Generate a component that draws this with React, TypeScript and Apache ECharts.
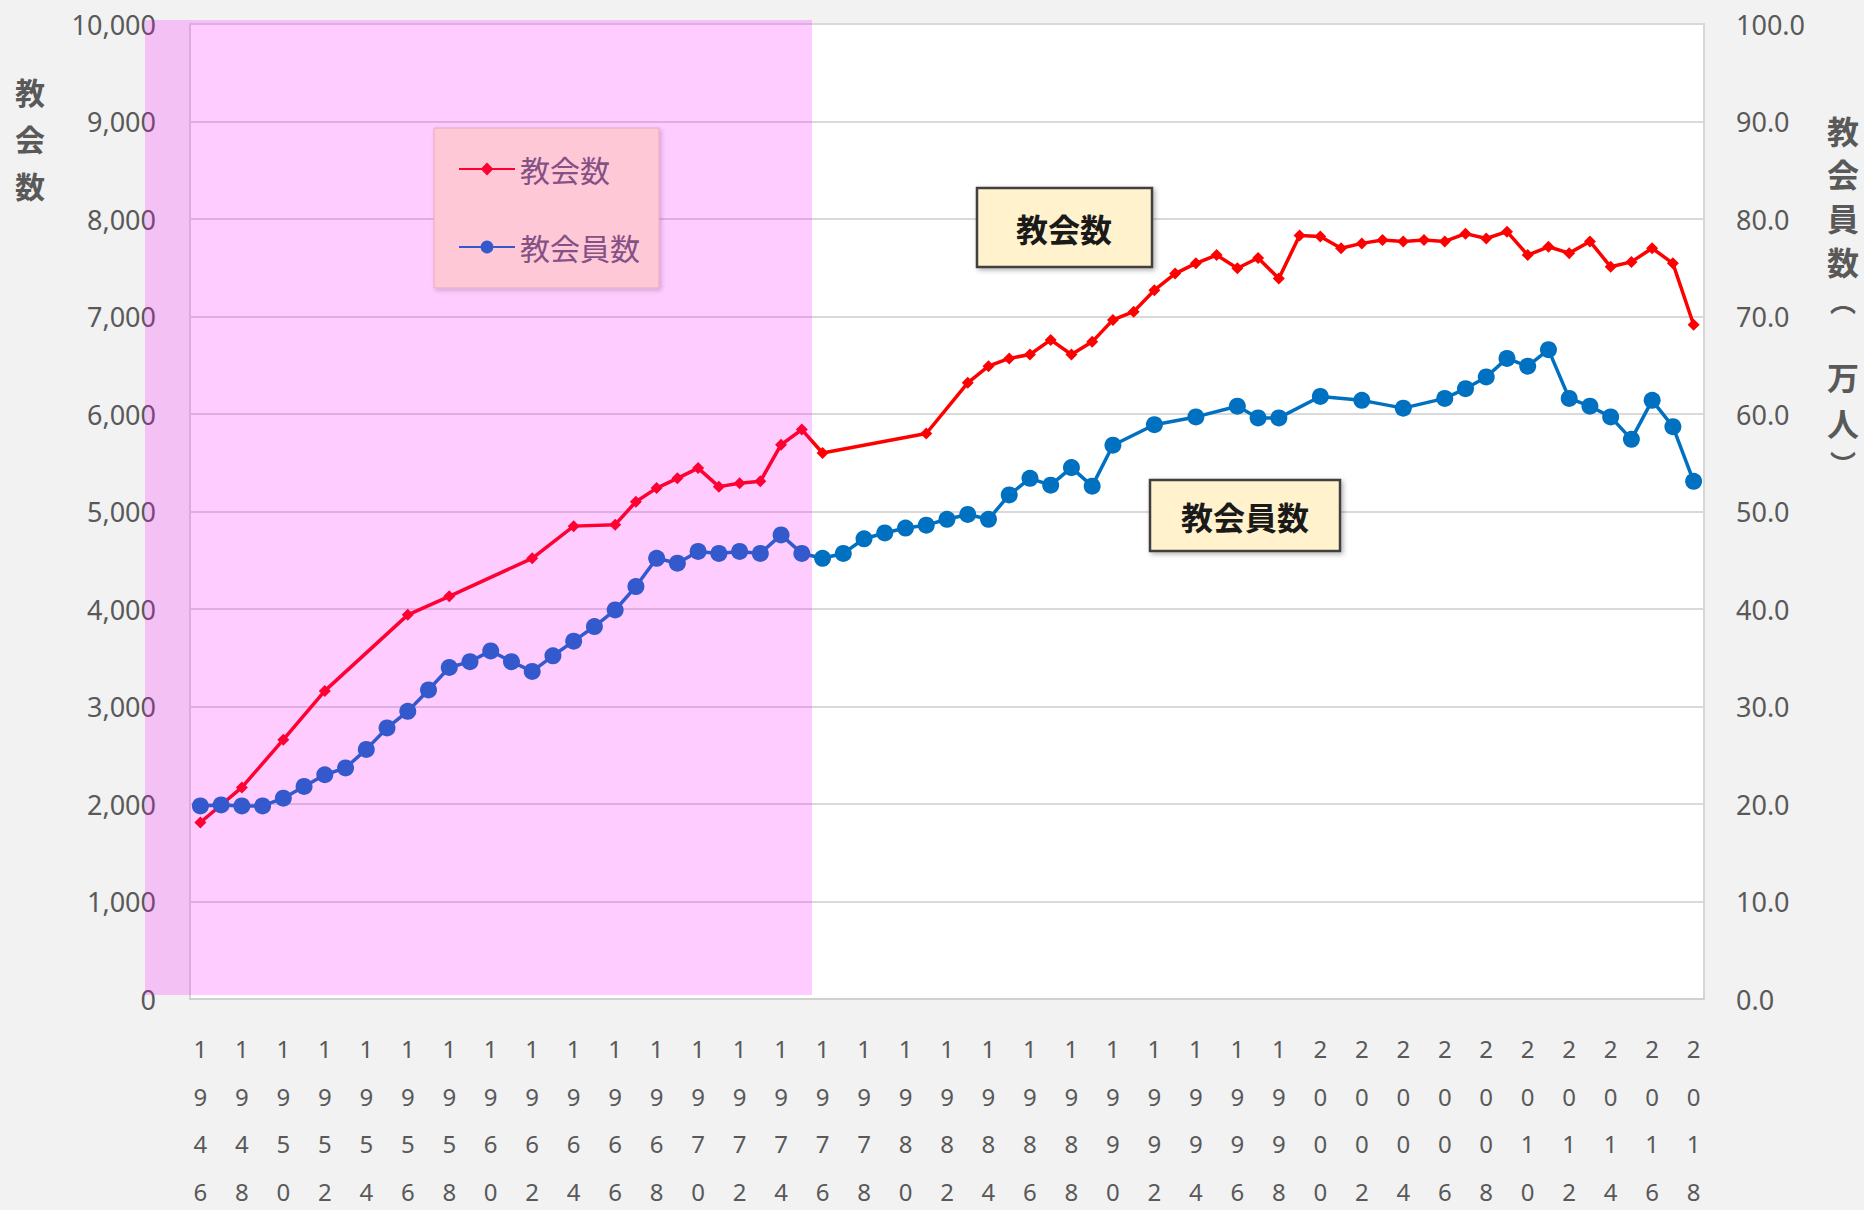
import React, { useEffect, useRef } from "react";
import * as echarts from "echarts";

const years = [
  "1946","1947","1948","1949","1950","1951","1952","1953","1954","1955",
  "1956","1957","1958","1959","1960","1961","1962","1963","1964","1965",
  "1966","1967","1968","1969","1970","1971","1972","1973","1974","1975",
  "1976","1977","1978","1979","1980","1981","1982","1983","1984","1985",
  "1986","1987","1988","1989","1990","1991","1992","1993","1994","1995",
  "1996","1997","1998","1999","2000","2001","2002","2003","2004","2005",
  "2006","2007","2008","2009","2010","2011","2012","2013","2014","2015",
  "2016","2017","2018",
];

// 教会数 (churches) — left axis
const churches: (number | null)[] = [
  1810, null, 2170, null, 2660, null, 3160, null, null, null,
  3940, null, 4130, null, null, null, 4520, null, 4850, null,
  4865, 5100, 5240, 5340, 5445, 5255, 5290, 5310, 5685, 5840,
  5600, null, null, null, null, 5800, null, 6320, 6490, 6570,
  6610, 6760, 6610, 6740, 6965, 7050, 7270, 7440, 7545, 7630,
  7495, 7600, 7390, 7830, 7820, 7700, 7750, 7785, 7770, 7785,
  7770, 7850, 7800, 7870, 7630, 7715, 7650, 7770, 7510, 7560,
  7700, 7545, 6915,
];

// 教会員数 (members, 万人) — right axis
const members: (number | null)[] = [
  19.8, 19.9, 19.8, 19.8, 20.6, 21.8, 23.0, 23.7, 25.6, 27.8,
  29.5, 31.7, 34.0, 34.6, 35.7, 34.6, 33.6, 35.2, 36.7, 38.2,
  39.9, 42.3, 45.2, 44.7, 45.9, 45.7, 45.9, 45.7, 47.6, 45.7,
  45.2, 45.7, 47.2, 47.8, 48.3, 48.6, 49.2, 49.7, 49.2, 51.7,
  53.4, 52.7, 54.5, 52.6, 56.8, null, 58.9, null, 59.7, null,
  60.8, 59.6, 59.6, null, 61.8, null, 61.4, null, 60.6, null,
  61.6, 62.6, 63.8, 65.7, 64.9, 66.6, 61.6, 60.8, 59.7, 57.4,
  61.4, 58.7, 53.1,
];

const seriesNames = ["教会数", "教会員数"];
const leftTitle = "教\n会\n数";
const rightTitleChars = ["教", "会", "員", "数", "︵", "万", "人", "︶"];
const rightTitleY = [130, 173, 217, 261, 300, 376, 422, 462];
const rightTitleSize = [32, 32, 32, 32, 26, 32, 32, 26];

const CJK = '"Noto Sans CJK JP", "Noto Sans", sans-serif';
const NUM = '"Noto Sans", "Noto Sans CJK JP", sans-serif';

export default function App() {
  const ref = useRef<HTMLDivElement>(null);

  useEffect(() => {
    if (!ref.current) return;
    const chart = echarts.init(ref.current, undefined, { renderer: "svg" });

    const graphics: any[] = [
      // left axis title
      {
        type: "text",
        x: 30,
        y: 67,
        style: {
          text: leftTitle,
          fontSize: 30,
          fontWeight: "bold",
          fontFamily: CJK,
          lineHeight: 47,
          fill: "#595959",
          align: "center",
          verticalAlign: "top",
        },
      },
      // annotation box: 教会数
      {
        type: "rect",
        shape: { x: 977, y: 188, width: 175, height: 79 },
        style: {
          fill: "#fff2cc",
          stroke: "#404040",
          lineWidth: 2.5,
          shadowBlur: 5,
          shadowColor: "rgba(0,0,0,0.3)",
          shadowOffsetX: 2,
          shadowOffsetY: 2,
        },
        z: 50,
      },
      {
        type: "text",
        x: 1064,
        y: 228,
        style: {
          text: seriesNames[0],
          fontSize: 32,
          fontWeight: "bold",
          fontFamily: CJK,
          fill: "#1a1a1a",
          align: "center",
          verticalAlign: "middle",
        },
        z: 51,
      },
      // annotation box: 教会員数
      {
        type: "rect",
        shape: { x: 1150, y: 480, width: 190, height: 71 },
        style: {
          fill: "#fff2cc",
          stroke: "#404040",
          lineWidth: 2.5,
          shadowBlur: 5,
          shadowColor: "rgba(0,0,0,0.3)",
          shadowOffsetX: 2,
          shadowOffsetY: 2,
        },
        z: 50,
      },
      {
        type: "text",
        x: 1245,
        y: 516,
        style: {
          text: seriesNames[1],
          fontSize: 32,
          fontWeight: "bold",
          fontFamily: CJK,
          fill: "#1a1a1a",
          align: "center",
          verticalAlign: "middle",
        },
        z: 51,
      },
      // magenta overlay on the early period
      {
        type: "rect",
        shape: { x: 145, y: 20, width: 667, height: 975 },
        style: { fill: "rgba(255,0,255,0.2)" },
        silent: true,
        z: 100,
      },
    ];

    rightTitleChars.forEach((ch, i) => {
      graphics.push({
        type: "text",
        x: 1843,
        y: rightTitleY[i],
        style: {
          text: ch,
          fontSize: rightTitleSize[i],
          fontWeight: "bold",
          fontFamily: CJK,
          fill: "#595959",
          align: "center",
          verticalAlign: "middle",
        },
      });
    });

    chart.setOption({
      animation: false,
      backgroundColor: "#f2f2f2",
      textStyle: { fontFamily: NUM },
      grid: {
        left: 190,
        right: 160,
        top: 24,
        height: 975,
        outerBoundsMode: "none",
        containLabel: false,
        show: true,
        backgroundColor: "#ffffff",
        borderColor: "#d6d6d6",
        borderWidth: 2,
      },
      legend: {
        orient: "vertical",
        left: 434,
        top: 128,
        padding: [26, 19, 26, 24],
        itemGap: 48,
        itemWidth: 56,
        itemHeight: 16,
        backgroundColor: "#fffacd",
        borderColor: "#e2d6b0",
        borderWidth: 1,
        shadowBlur: 4,
        shadowColor: "rgba(0,0,0,0.2)",
        shadowOffsetX: 2,
        shadowOffsetY: 2,
        textStyle: { fontSize: 30, color: "#666666", fontFamily: CJK },
        data: seriesNames,
      },
      xAxis: {
        type: "category",
        data: years,
        boundaryGap: true,
        axisLine: { show: true, lineStyle: { color: "#d0d0d0", width: 2 } },
        axisTick: { show: false },
        splitLine: { show: false },
        axisLabel: {
          interval: 1,
          formatter: (v: string) => v.split("").join("\n"),
          fontSize: 24,
          lineHeight: 47.5,
          color: "#595959",
          margin: 26,
          fontFamily: NUM,
        },
      },
      yAxis: [
        {
          type: "value",
          min: 0,
          max: 10000,
          interval: 1000,
          position: "left",
          axisLine: { show: false },
          axisTick: { show: false },
          splitLine: { show: true, lineStyle: { color: "#d9d9d9", width: 2 } },
          axisLabel: {
            formatter: (v: number) => v.toLocaleString("en-US"),
            fontSize: 27,
            color: "#595959",
            margin: 34,
            fontFamily: NUM,
          },
        },
        {
          type: "value",
          min: 0,
          max: 100,
          interval: 10,
          position: "right",
          axisLine: { show: false },
          axisTick: { show: false },
          splitLine: { show: false },
          axisLabel: {
            formatter: (v: number) => v.toFixed(1),
            fontSize: 27,
            color: "#595959",
            margin: 32,
            fontFamily: NUM,
          },
        },
      ],
      series: [
        {
          name: seriesNames[0],
          type: "line",
          yAxisIndex: 0,
          data: churches,
          connectNulls: true,
          showAllSymbol: true,
          symbol: "diamond",
          symbolSize: 12,
          itemStyle: { color: "#ff0000" },
          lineStyle: { color: "#ff0000", width: 3.5 },
          z: 3,
        },
        {
          name: seriesNames[1],
          type: "line",
          yAxisIndex: 1,
          data: members,
          connectNulls: true,
          showAllSymbol: true,
          symbol: "circle",
          symbolSize: 17,
          itemStyle: { color: "#0070c0" },
          lineStyle: { color: "#0070c0", width: 3.5 },
          z: 4,
        },
      ],
      graphic: graphics,
    });

    return () => chart.dispose();
  }, []);

  return (
    <div
      ref={ref}
      style={{ position: "absolute", left: 0, top: 0, width: 1864, height: 1210 }}
    />
  );
}
